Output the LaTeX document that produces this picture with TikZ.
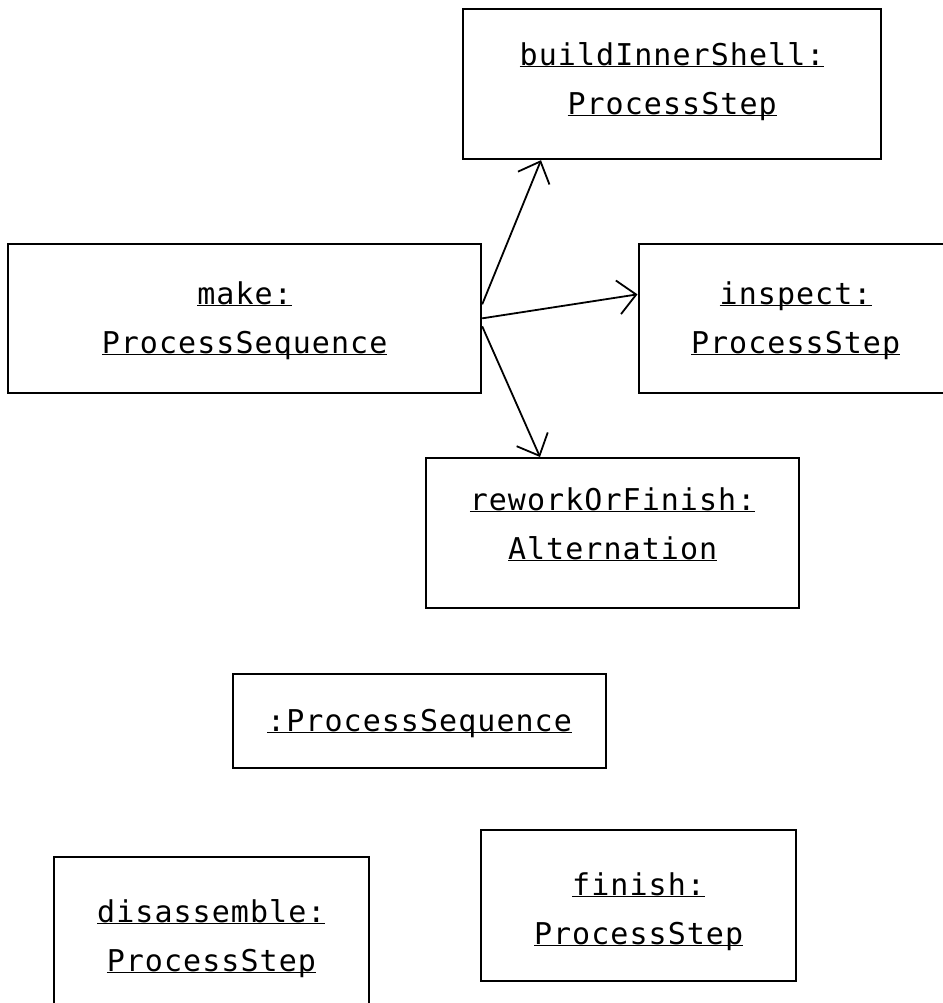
\documentclass[tikz,border=0pt]{standalone}
\usepackage{fontspec}
\newfontfamily\umlfont[LetterSpace=3.5]{DejaVu Sans Mono}
\usetikzlibrary{arrows.meta}

\newcommand{\ulname}[1]{\underline{\raisebox{0pt}[\height][0pt]{#1}}}

\begin{document}
\begin{tikzpicture}[
    x=1pt, y=-1pt,
    object/.style={
        rectangle,% UML object box
        draw,
        line width=2.2pt,
        anchor=north west,
        inner sep=0pt,
        align=center,
        font=\umlfont\fontsize{30}{49}\selectfont,
    },
    arrow/.style={line width=1.8pt, ->, >={Straight Barb[length=18pt,width=34pt]}}
]
    \useasboundingbox (0,0) rectangle (942,1003);

    % Nodes
    \node[object, minimum width=418pt, text height=105pt, text depth=45pt] (inner) at (462,8) {\ulname{buildInnerShell:}\\\ulname{ProcessStep}};
    \node[object, minimum width=473pt, text height=109.5pt, text depth=40pt] (make) at (7,242.5) {\ulname{make:}\\\ulname{ProcessSequence}};
    \node[object, minimum width=314pt, text height=109.5pt, text depth=40pt] (inspect) at (637.5,242.5) {\ulname{inspect:}\\\ulname{ProcessStep}};
    \node[object, minimum width=373pt, text height=101pt, text depth=49pt] (rework) at (425,457) {\ulname{reworkOrFinish:}\\\ulname{Alternation}};

    \node[object, minimum width=373pt, text height=57pt, text depth=37pt] (anon) at (232,673) {\ulname{:ProcessSequence}};

    \node[object, minimum width=315pt, text height=114pt, text depth=37pt] (finish) at (480,829) {\ulname{finish:}\\\ulname{ProcessStep}};
    \node[object, minimum width=315.5pt, text height=114pt, text depth=42pt] (disassemble) at (52.5,856) {\ulname{disassemble:}\\\ulname{ProcessStep}};

    % Connections
    \draw[arrow] ([yshift=14pt]make.east) -- ([xshift=79pt]inner.south west);
    \draw[arrow] (make.east) -- ([yshift=24pt]inspect.west);
    \draw[arrow] ([yshift=-8pt]make.east) -- ([xshift=115pt]rework.north west);
\end{tikzpicture}
\end{document}
